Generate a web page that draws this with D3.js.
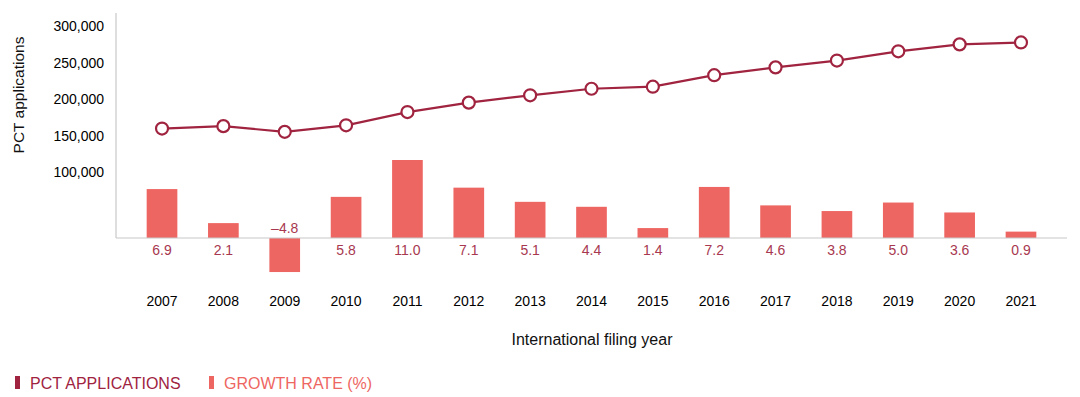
<!DOCTYPE html>
<html>
<head>
<meta charset="utf-8">
<script src="https://cdn.jsdelivr.net/npm/d3@7"></script>
<style>
  body { margin: 0; background: #fff; }
  text { font-family: "Liberation Sans", Arial, sans-serif; }
</style>
</head>
<body>
<div id="chart"></div>
<script>
const years = [2007, 2008, 2009, 2010, 2011, 2012, 2013, 2014, 2015, 2016, 2017, 2018, 2019, 2020, 2021];
const applications = [159900, 163200, 155400, 164300, 182400, 195300, 205300, 214300, 217100, 232800, 243500, 252800, 265400, 274900, 277500];
const growthRate = [6.9, 2.1, -4.8, 5.8, 11.0, 7.1, 5.1, 4.4, 1.4, 7.2, 4.6, 3.8, 5.0, 3.6, 0.9];
const yTicks = [100000, 150000, 200000, 250000, 300000];

const w = 1080, h = 397;
const lineColor = "#a0233f";
const barColor = "#ee6662";
const labelColor = "#a8384f";

const svg = d3.select("#chart").append("svg")
    .attr("width", w)
    .attr("height", h);

const x = d3.scaleBand()
    .domain(years)
    .range([116, 1067])
    .paddingInner(0.5)
    .paddingOuter(0.5);

// left axis for applications
const y = d3.scaleLinear()
    .domain([0, 300000])
    .range([245.6, 26]);

// growth rate bars share the baseline at y=238
const yBar = d3.scaleLinear()
    .domain([0, 11])
    .range([238, 160]);

const yAxis = d3.axisLeft(y)
    .tickValues(yTicks)
    .tickSize(0)
    .tickPadding(12)
    .tickFormat(d3.format(","));

const gy = svg.append("g")
    .attr("transform", "translate(116,0)")
    .call(yAxis);
gy.select(".domain").remove();
gy.selectAll("text")
    .style("font-size", "14px")
    .attr("fill", "#000");

svg.append("line")
    .attr("x1", 116).attr("x2", 116)
    .attr("y1", 13).attr("y2", 238)
    .attr("stroke", "#c8c8c8").attr("stroke-width", 1.2);

svg.selectAll(".bar")
    .data(growthRate)
    .join("rect")
    .attr("class", "bar")
    .attr("x", (d, i) => x(years[i]))
    .attr("width", x.bandwidth())
    .attr("y", d => d >= 0 ? yBar(d) : yBar(0))
    .attr("height", d => Math.abs(yBar(d) - yBar(0)))
    .attr("fill", barColor);

svg.append("line")
    .attr("x1", 116).attr("x2", 1067)
    .attr("y1", 238).attr("y2", 238)
    .attr("stroke", "#c8c8c8").attr("stroke-width", 1.2);

svg.selectAll(".rate-label")
    .data(growthRate)
    .join("text")
    .attr("class", "rate-label")
    .attr("x", (d, i) => x(years[i]) + x.bandwidth() / 2)
    .attr("y", d => d >= 0 ? 255 : 233)
    .attr("text-anchor", "middle")
    .attr("fill", labelColor)
    .style("font-size", "14px")
    .text(d => d < 0 ? "\u2013" + Math.abs(d).toFixed(1) : d.toFixed(1));

const line = d3.line()
    .x((d, i) => x(years[i]) + x.bandwidth() / 2)
    .y(d => y(d));

svg.append("path")
    .datum(applications)
    .attr("d", line)
    .attr("fill", "none")
    .attr("stroke", lineColor)
    .attr("stroke-width", 2.2);

svg.selectAll(".dot")
    .data(applications)
    .join("circle")
    .attr("class", "dot")
    .attr("cx", (d, i) => x(years[i]) + x.bandwidth() / 2)
    .attr("cy", d => y(d))
    .attr("r", 6)
    .attr("fill", "#fff")
    .attr("stroke", lineColor)
    .attr("stroke-width", 2.2);

const xAxis = d3.axisBottom(x).tickSize(0).tickPadding(0);
const gx = svg.append("g")
    .attr("transform", "translate(0,296)")
    .call(xAxis);
gx.select(".domain").remove();
gx.selectAll("text")
    .style("font-size", "14px")
    .attr("fill", "#000");

svg.append("text")
    .attr("x", 592)
    .attr("y", 345)
    .attr("text-anchor", "middle")
    .attr("fill", "#111")
    .style("font-size", "16px")
    .text("International filing year");

svg.append("text")
    .attr("transform", "rotate(-90)")
    .attr("x", -95)
    .attr("y", 24)
    .attr("text-anchor", "middle")
    .attr("fill", "#111")
    .style("font-size", "15.5px")
    .text("PCT applications");

// legend
const legend = [
    { label: "PCT APPLICATIONS", color: lineColor, x: 15 },
    { label: "GROWTH RATE (%)", color: barColor, x: 209 }
];
const lg = svg.selectAll(".legend")
    .data(legend)
    .join("g")
    .attr("class", "legend")
    .attr("transform", d => `translate(${d.x},376)`);
lg.append("rect")
    .attr("width", 5).attr("height", 13)
    .attr("fill", d => d.color);
lg.append("text")
    .attr("x", 15).attr("y", 13)
    .attr("fill", d => d.color)
    .style("font-size", "16px")
    .text(d => d.label);
</script>
</body>
</html>
